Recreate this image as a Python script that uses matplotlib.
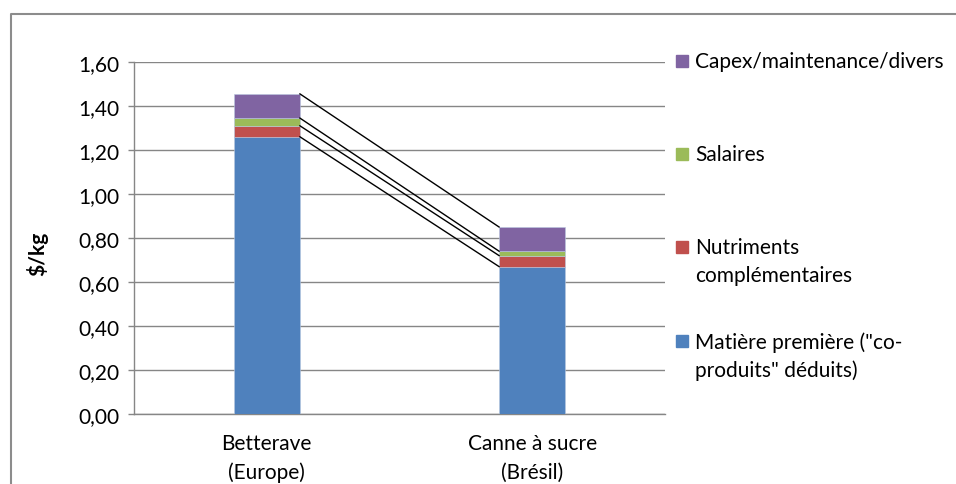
import matplotlib.pyplot as plt
from matplotlib.patches import Rectangle
from matplotlib.lines import Line2D
import numpy as np

plt.rcParams['font.family'] = ['Lato', 'DejaVu Sans']

categories = ["Betterave\n(Europe)", "Canne à sucre\n(Brésil)"]
series_names = ['Matière première ("co-\nproduits" déduits)',
                "Nutriments\ncomplémentaires",
                "Salaires",
                "Capex/maintenance/divers"]
matiere = [1.26, 0.67]
nutriments = [0.05, 0.05]
salaires = [0.035, 0.02]
capex = [0.11, 0.11]
colors = ["#4F81BD", "#C0504D", "#9BBB59", "#8064A2"]
yticks = [0.0, 0.2, 0.4, 0.6, 0.8, 1.0, 1.2, 1.4, 1.6]

fs = 15

fig = plt.figure(figsize=(9.56, 4.85), dpi=100)
ax = fig.add_axes([134 / 956, 1 - 415 / 485, 531 / 956, (415 - 63) / 485])

x = np.arange(len(categories))
width = 0.25
stack = [matiere, nutriments, salaires, capex]
bottom = np.zeros(len(categories))
tops = []
for vals, col in zip(stack, colors):
    ax.bar(x, vals, width, bottom=bottom, color=col, edgecolor="#b8c8e0",
           linewidth=0.4, zorder=3)
    bottom = bottom + np.array(vals)
    tops.append(bottom.copy())

# series lines between the stacks
for t in tops:
    ax.plot([x[0] + width / 2, x[1] - width / 2], [t[0], t[1]],
            color="black", lw=1.0, zorder=4)

ax.set_xlim(-0.5, 1.5)
ax.set_ylim(0, 1.6)
ax.set_yticks(yticks)
ax.set_yticklabels([f"{v:.2f}".replace(".", ",") for v in yticks], fontsize=fs)
ax.set_xticks(x)
ax.set_xticklabels(categories, fontsize=fs, linespacing=1.5)
ax.tick_params(axis="x", length=0, pad=14)
ax.tick_params(axis="y", length=4.5, width=1, color="#868686", pad=6)
ax.yaxis.grid(True, color="#868686", lw=1, zorder=0)
for s in ["top", "right"]:
    ax.spines[s].set_visible(False)
for s in ["left", "bottom"]:
    ax.spines[s].set_color("#868686")
    ax.spines[s].set_linewidth(1)
ax.set_ylabel("$/kg", fontsize=fs, fontweight="bold")
ax.yaxis.set_label_coords(-(134 - 48) / 531, (415 - 254) / 352)

# legend drawn by hand, reversed order like the stack
legend_rows = [(series_names[3], colors[3], 62),
               (series_names[2], colors[2], 155),
               (series_names[1], colors[1], 248),
               (series_names[0], colors[0], 342)]
for label, col, yc in legend_rows:
    fig.patches.append(Rectangle((676 / 956, 1 - (yc + 6) / 485), 12 / 956, 12 / 485,
                                 transform=fig.transFigure, color=col))
    fig.text(695 / 956, 1 - (yc - 10) / 485, label, fontsize=fs, va="top",
             ha="left", linespacing=1.5)

# chart frame
fig.lines.append(Line2D([10.5 / 956, 10.5 / 956, 1.0], [0.0, 1 - 15 / 485, 1 - 15 / 485],
                        transform=fig.transFigure, color="#8c8c8c", lw=1.5))

fig.savefig("out.png", dpi=100)
